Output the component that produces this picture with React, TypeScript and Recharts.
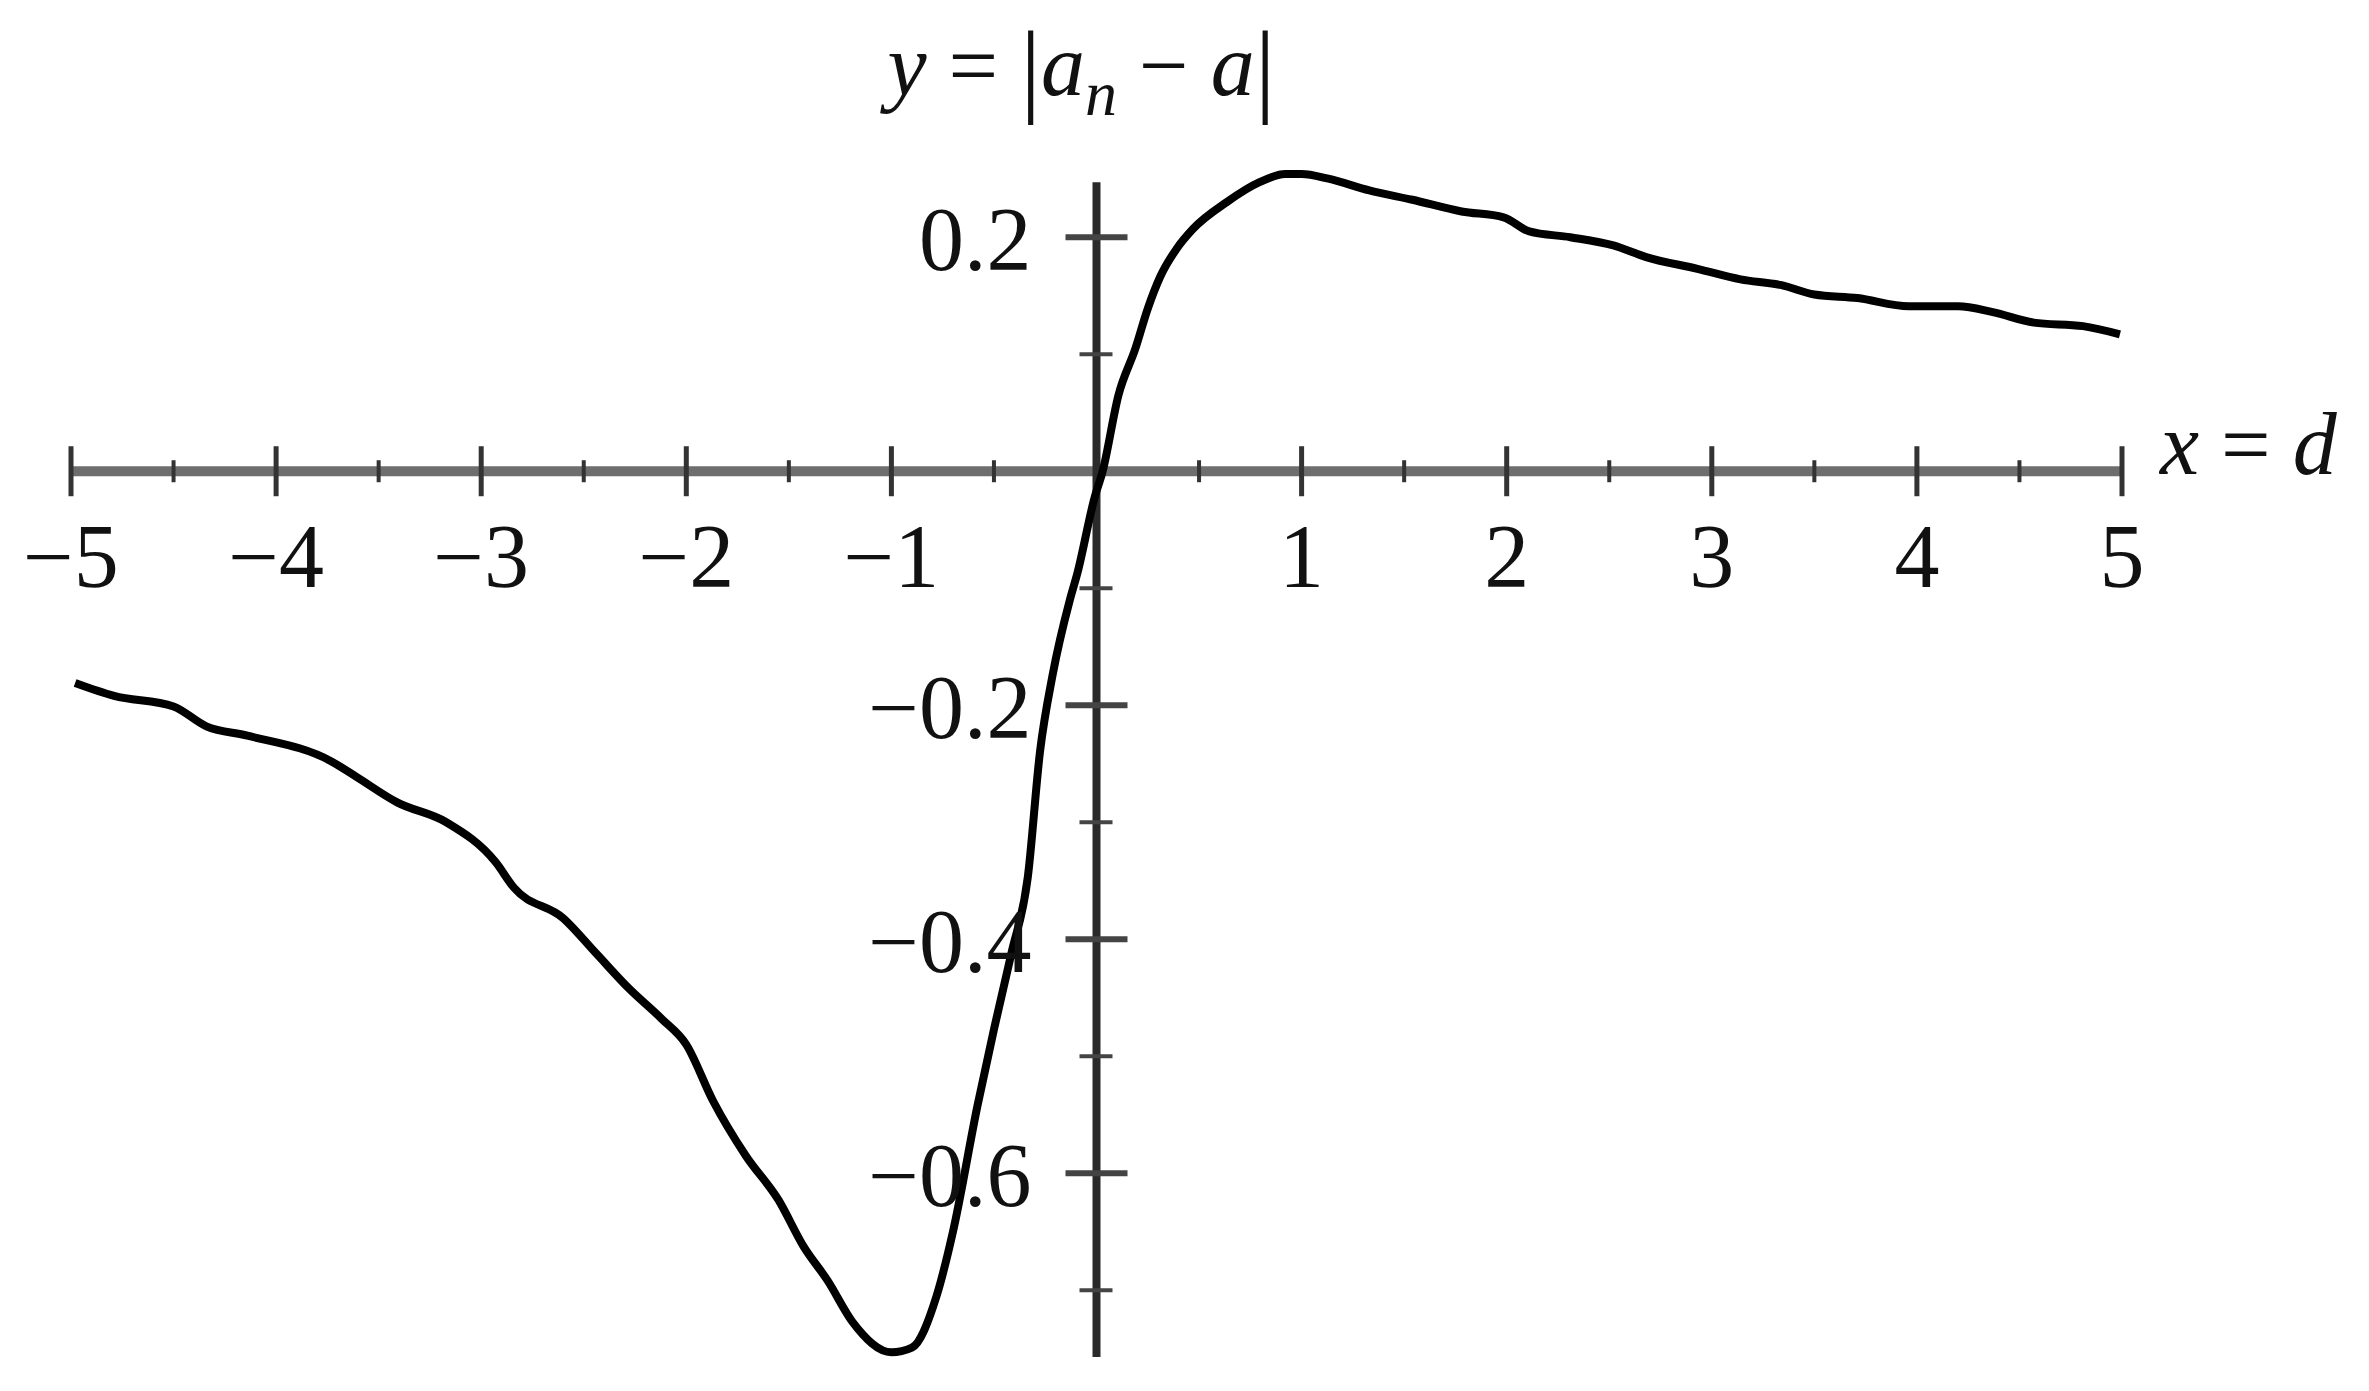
import { LineChart, Line, XAxis, YAxis, ReferenceLine, ReferenceDot } from 'recharts';

// curve
const xs = [
  -4.98, -4.79, -4.5, -4.34, -4.14, -3.73, -3.61, -3.41, -3.17, -2.93, -2.84, -2.6, -2.44, -2.28, -2.12, -2.0,
  -1.87, -1.71, -1.55, -1.43, -1.31, -1.19, -1.0, -0.9, -0.78, -0.7, -0.58, -0.5, -0.415, -0.335, -0.275, -0.215,
  -0.13, -0.093, -0.01, 0.03, 0.107, 0.19, 0.25, 0.31, 0.39, 0.47, 0.635, 0.795, 0.92, 1.0, 1.13, 1.33, 1.54,
  1.78, 1.985, 2.11, 2.31, 2.52, 2.68, 2.93, 3.14, 3.34, 3.5, 3.71, 3.96, 4.2, 4.37, 4.57, 4.81, 4.99,
];
const ys = [
  -0.181, -0.192, -0.201, -0.218, -0.226, -0.248, -0.261, -0.283, -0.3, -0.334, -0.356, -0.382, -0.412, -0.442,
  -0.468, -0.49, -0.538, -0.585, -0.623, -0.662, -0.692, -0.727, -0.753, -0.749, -0.705, -0.65, -0.542, -0.477,
  -0.412, -0.347, -0.239, -0.175, -0.11, -0.087, -0.023, 0.0, 0.065, 0.105, 0.139, 0.166, 0.19, 0.207, 0.23,
  0.247, 0.254, 0.254, 0.25, 0.24, 0.232, 0.222, 0.217, 0.205, 0.2, 0.193, 0.183, 0.173, 0.164, 0.159, 0.151,
  0.148, 0.141, 0.141, 0.136, 0.127, 0.124, 0.117,
];

const xMajorTicks = [-5, -4, -3, -2, -1, 1, 2, 3, 4, 5];
const xMinorTicks = [-4.5, -3.5, -2.5, -1.5, -0.5, 0.5, 1.5, 2.5, 3.5, 4.5];
const yMajorTicks = [0.2, -0.2, -0.4, -0.6];
const yMinorTicks = [0.1, -0.1, -0.3, -0.5, -0.7];

const xDomain = [-5, 5];
const yDomain = [-0.757, 0.26];
const yAxisEnds = [-0.757, 0.247];

const data = xs.map((x, i) => ({ x, y: ys[i] }));

const FONT = '"Liberation Serif", "Times New Roman", serif';
const fmt = (v: number) => (v < 0 ? '\u2212' : '') + String(Math.abs(v));

const xTickShape = (v: number, major: boolean) => (p: any) => {
  const h = major ? 25 : 11;
  return (
    <g>
      <line x1={p.cx} x2={p.cx} y1={p.cy - h} y2={p.cy + h} stroke="#333" strokeWidth={major ? 5 : 4} />
      {major && (
        <text x={p.cx} y={p.cy + 116} textAnchor="middle" fontSize={90} fontFamily={FONT} fill="#111">
          {fmt(v)}
        </text>
      )}
    </g>
  );
};

const yTickShape = (v: number, major: boolean) => (p: any) => (
  <g>
    <line
      x1={major ? p.cx - 31 : p.cx - 17}
      x2={major ? p.cx + 31 : p.cx + 16}
      y1={p.cy}
      y2={p.cy}
      stroke="#444"
      strokeWidth={major ? 6 : 4}
    />
    {major && (
      <text x={p.cx - 65} y={p.cy + 33} textAnchor="end" fontSize={90} fontFamily={FONT} fill="#111">
        {fmt(v)}
      </text>
    )}
  </g>
);

const yTitle = (p: any) => (
  <text x={p.cx - 15} y={p.cy - 87} textAnchor="middle" fontSize={88} fontFamily={FONT} fill="#111">
    <tspan fontStyle="italic">y</tspan>
    <tspan> = </tspan>
    <tspan fontSize={104} dy={8}>|</tspan>
    <tspan fontStyle="italic" dy={-8}>a</tspan>
    <tspan fontStyle="italic" fontSize={64} dy={20}>n</tspan>
    <tspan dy={-20}> − </tspan>
    <tspan fontStyle="italic">a</tspan>
    <tspan fontSize={104} dy={8}>|</tspan>
  </text>
);

const xTitle = (p: any) => (
  <text x={p.cx + 38} y={p.cy + 3} fontSize={88} fontFamily={FONT} fill="#111">
    <tspan fontStyle="italic">x</tspan>
    <tspan> = </tspan>
    <tspan fontStyle="italic">d</tspan>
  </text>
);

export default function App() {
  return (
    <div style={{ width: 2353, height: 1375, background: '#fff' }}>
      <LineChart width={2353} height={1375} data={data} margin={{ top: 159, right: 239, bottom: 26, left: 63 }}>
        <XAxis type="number" dataKey="x" domain={xDomain} hide />
        <YAxis type="number" domain={yDomain} hide allowDataOverflow />

        {/* x axis */}
        <ReferenceLine
          segment={[{ x: xDomain[0], y: 0 }, { x: xDomain[1], y: 0 }]}
          stroke="#6e6e6e"
          strokeWidth={10}
        />
        {xMinorTicks.map((v) => (
          <ReferenceDot key={'xm' + v} x={v} y={0} r={1} shape={xTickShape(v, false)} ifOverflow="visible" />
        ))}
        {xMajorTicks.map((v) => (
          <ReferenceDot key={'xM' + v} x={v} y={0} r={1} shape={xTickShape(v, true)} ifOverflow="visible" />
        ))}

        {/* y axis */}
        <ReferenceLine
          segment={[{ x: 0, y: yAxisEnds[0] }, { x: 0, y: yAxisEnds[1] }]}
          stroke="#2a2a2a"
          strokeWidth={8}
        />
        {yMinorTicks.map((v) => (
          <ReferenceDot key={'ym' + v} x={0} y={v} r={1} shape={yTickShape(v, false)} ifOverflow="visible" />
        ))}
        {yMajorTicks.map((v) => (
          <ReferenceDot key={'yM' + v} x={0} y={v} r={1} shape={yTickShape(v, true)} ifOverflow="visible" />
        ))}

        <ReferenceDot x={0} y={yAxisEnds[1]} r={1} shape={yTitle} ifOverflow="visible" />
        <ReferenceDot x={xDomain[1]} y={0} r={1} shape={xTitle} ifOverflow="visible" />

        <Line
          type="monotone"
          dataKey="y"
          stroke="#000"
          strokeWidth={8}
          dot={false}
          activeDot={false}
          isAnimationActive={false}
        />
      </LineChart>
    </div>
  );
}
